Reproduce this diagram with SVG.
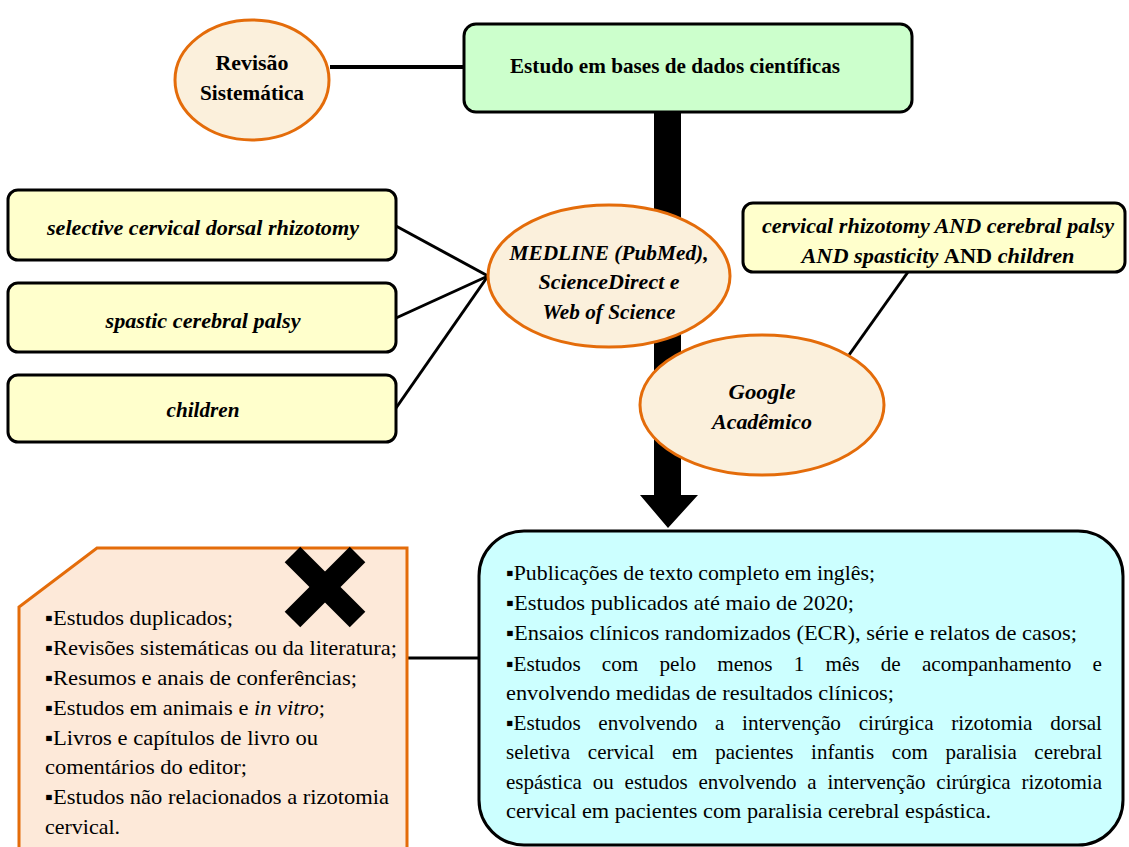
<svg xmlns="http://www.w3.org/2000/svg" width="1129" height="847" viewBox="0 0 1129 847">
<style>
.el{fill:#fbf0dc;stroke:#e46c0a;stroke-width:3}
.box{stroke:#000;stroke-width:3}
.ln{stroke:#000;fill:none}
</style>
<rect width="1129" height="847" fill="#fff"/>
<g id="connectors">
<line class="ln" x1="330" y1="67" x2="464" y2="67" stroke-width="4"/>
<polygon points="654,112 681,112 681,495 698,495 668,528 640,495 654,495" fill="#000"/>
<line class="ln" x1="396" y1="226" x2="488" y2="276" stroke-width="3"/>
<line class="ln" x1="396" y1="318" x2="488" y2="276" stroke-width="3"/>
<line class="ln" x1="396" y1="408" x2="488" y2="276" stroke-width="3"/>
<line class="ln" x1="908" y1="272" x2="849" y2="355" stroke-width="3"/>
<line class="ln" x1="408" y1="658" x2="480" y2="658" stroke-width="3"/>
</g>
<g font-family="Liberation Serif, Times New Roman, serif" fill="#000">
<g id="revisao">
<ellipse class="el" cx="252" cy="80" rx="77" ry="60"/>
<text x="252" y="70" font-size="21" font-weight="bold" text-anchor="middle" textLength="73" lengthAdjust="spacingAndGlyphs">Revisão</text>
<text x="252" y="100" font-size="21" font-weight="bold" text-anchor="middle" textLength="104" lengthAdjust="spacingAndGlyphs">Sistemática</text>
</g>
<g id="estudo">
<rect class="box" x="464" y="24" width="448" height="88" rx="12" fill="#ccffcc"/>
<text x="675" y="73" font-size="21" font-weight="bold" text-anchor="middle" textLength="330" lengthAdjust="spacingAndGlyphs">Estudo em bases de dados científicas</text>
</g>
<g id="kw1">
<rect class="box" x="8" y="190" width="388" height="70" rx="10" fill="#ffffcc"/>
<text x="203" y="235" font-size="21" font-weight="bold" font-style="italic" text-anchor="middle" textLength="312" lengthAdjust="spacingAndGlyphs">selective cervical dorsal rhizotomy</text>
</g>
<g id="kw2">
<rect class="box" x="8" y="283" width="388" height="69" rx="10" fill="#ffffcc"/>
<text x="203" y="328" font-size="21" font-weight="bold" font-style="italic" text-anchor="middle" textLength="195" lengthAdjust="spacingAndGlyphs">spastic cerebral palsy</text>
</g>
<g id="kw3">
<rect class="box" x="8" y="375" width="388" height="67" rx="10" fill="#ffffcc"/>
<text x="203" y="417" font-size="21" font-weight="bold" font-style="italic" text-anchor="middle" textLength="73" lengthAdjust="spacingAndGlyphs">children</text>
</g>
<g id="medline">
<ellipse class="el" cx="609" cy="276" rx="121" ry="71"/>
<text x="609" y="260" font-size="21" font-weight="bold" font-style="italic" text-anchor="middle" textLength="199" lengthAdjust="spacingAndGlyphs">MEDLINE (PubMed),</text>
<text x="609" y="289" font-size="21" font-weight="bold" font-style="italic" text-anchor="middle" textLength="141" lengthAdjust="spacingAndGlyphs">ScienceDirect e</text>
<text x="609" y="319" font-size="21" font-weight="bold" font-style="italic" text-anchor="middle" textLength="133" lengthAdjust="spacingAndGlyphs">Web of Science</text>
</g>
<g id="google-kw">
<rect class="box" x="743" y="203" width="382" height="69" rx="10" fill="#ffffcc"/>
<text x="938" y="233" font-size="21" font-weight="bold" font-style="italic" text-anchor="middle" textLength="352" lengthAdjust="spacingAndGlyphs">cervical rhizotomy AND cerebral palsy</text>
<text x="938" y="263" font-size="21" font-weight="bold" text-anchor="middle" textLength="273" lengthAdjust="spacingAndGlyphs"><tspan font-style="italic">AND spasticity </tspan> AND <tspan font-style="italic">children</tspan></text>
</g>
<g id="google">
<ellipse class="el" cx="762" cy="405" rx="122" ry="70"/>
<text x="762" y="399" font-size="21" font-weight="bold" font-style="italic" text-anchor="middle" textLength="67" lengthAdjust="spacingAndGlyphs">Google</text>
<text x="762" y="429" font-size="21" font-weight="bold" font-style="italic" text-anchor="middle" textLength="100" lengthAdjust="spacingAndGlyphs">Acadêmico</text>
</g>
<g id="exclusao">
<polygon points="97,548 407,548 407,849 19,849 19,607" fill="#fde9d9" stroke="#e46c0a" stroke-width="3"/>
<g transform="translate(325,587) rotate(45)" fill="#000">
<rect x="-11" y="-46" width="22" height="92"/>
<rect x="-46" y="-11" width="92" height="22"/>
</g>
<g font-size="21">
<text x="45" y="625" textLength="188" lengthAdjust="spacingAndGlyphs">▪Estudos duplicados;</text>
<text x="45" y="655" textLength="352" lengthAdjust="spacingAndGlyphs">▪Revisões sistemáticas ou da literatura;</text>
<text x="45" y="685" textLength="312" lengthAdjust="spacingAndGlyphs">▪Resumos e anais de conferências;</text>
<text x="45" y="715" textLength="280" lengthAdjust="spacingAndGlyphs">▪Estudos em animais e <tspan font-style="italic">in vitro</tspan>;</text>
<text x="45" y="745" textLength="273" lengthAdjust="spacingAndGlyphs">▪Livros e capítulos de livro ou</text>
<text x="45" y="774" textLength="202" lengthAdjust="spacingAndGlyphs">comentários do editor;</text>
<text x="45" y="804" textLength="344" lengthAdjust="spacingAndGlyphs">▪Estudos não relacionados a rizotomia</text>
<text x="45" y="834" textLength="75" lengthAdjust="spacingAndGlyphs">cervical.</text>
</g>
</g>
<g id="inclusao">
<rect class="box" x="479" y="531" width="644" height="314" rx="45" fill="#ccffff"/>
<g font-size="21">
<text x="506" y="580" textLength="369" lengthAdjust="spacingAndGlyphs">▪Publicações de texto completo em inglês;</text>
<text x="506" y="610" textLength="348" lengthAdjust="spacingAndGlyphs">▪Estudos publicados até maio de 2020;</text>
<text x="506" y="640" textLength="571" lengthAdjust="spacingAndGlyphs">▪Ensaios clínicos randomizados (ECR), série e relatos de casos;</text>
<text x="506" y="671" word-spacing="15.7" textLength="596" lengthAdjust="spacingAndGlyphs">▪Estudos com pelo menos 1 mês de acompanhamento e</text>
<text x="506" y="700" textLength="388" lengthAdjust="spacingAndGlyphs">envolvendo medidas de resultados clínicos;</text>
<text x="506" y="730" word-spacing="12.3" textLength="596" lengthAdjust="spacingAndGlyphs">▪Estudos envolvendo a intervenção cirúrgica rizotomia dorsal</text>
<text x="506" y="759" word-spacing="12.4" textLength="596" lengthAdjust="spacingAndGlyphs">seletiva cervical em pacientes infantis com paralisia cerebral</text>
<text x="506" y="789" word-spacing="5.6" textLength="596" lengthAdjust="spacingAndGlyphs">espástica ou estudos envolvendo a intervenção cirúrgica rizotomia</text>
<text x="506" y="818" textLength="485" lengthAdjust="spacingAndGlyphs">cervical em pacientes com paralisia cerebral espástica.</text>
</g>
</g>
</g>
</svg>
